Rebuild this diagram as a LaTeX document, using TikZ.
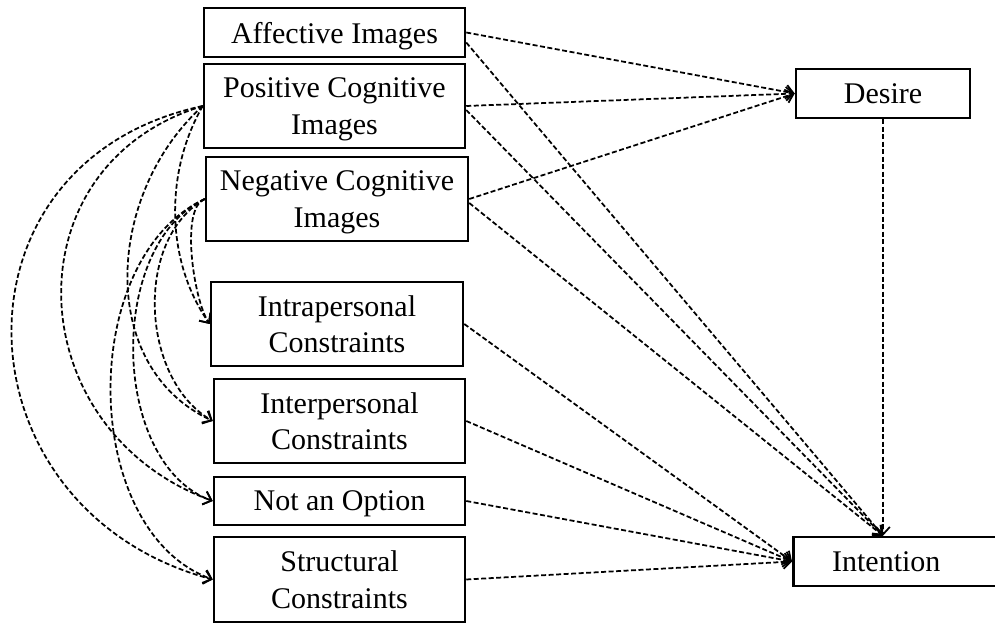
\documentclass[tikz,border=0pt]{standalone}
\usepackage{fontspec}
\setmainfont{Liberation Serif}
\usetikzlibrary{arrows.meta}

\tikzset{
  box/.style={draw, line width=1pt, align=center, inner sep=0pt, text depth=0pt, font=\fontsize{12}{14.5}\selectfont},
  conn/.style={dash pattern=on 2pt off 1pt, line width=0.7pt, -{Straight Barb[length=3pt,width=5.5pt]}},
}

\begin{document}
\begin{tikzpicture}[x=0.4pt,y=0.4pt]
        \useasboundingbox (0,0) rectangle (995,-624);
        % images
        \node[box, minimum width=104.4pt, minimum height=19.6pt](aff) at (334.5,-32.5) {Affective Images};
        \node[box, minimum width=104.4pt, minimum height=33.6pt](pos) at (334.5,-106) {Positive Cognitive\\Images};
        \node[box, minimum width=104.8pt, minimum height=33.6pt](neg) at (337,-199) {Negative Cognitive\\Images};
        % constraints
        \node[box, minimum width=100.8pt, minimum height=33.6pt](intra) at (337,-324) {Intrapersonal\\Constraints};
        \node[box, minimum width=100.4pt, minimum height=33.6pt](inter) at (339.5,-421) {Interpersonal\\Constraints};
        \node[box, minimum width=100.4pt, minimum height=19.2pt](notopt) at (339.5,-501) {Not an Option};
        \node[box, minimum width=100.4pt, minimum height=34pt](struct) at (339.5,-579.5) {Structural\\Constraints};
        % outcomes
        \node[box, minimum width=69.6pt, minimum height=19.6pt](desire) at (883,-93.5) {Desire};
        \node[box, minimum width=88pt, minimum height=19.6pt, anchor=west](intent) at (792,-561.5) {\hspace*{-13.6pt}Intention};

        % to desire
        \draw[conn] (aff.east) -- (desire.west);
        \draw[conn] (pos.east) -- (desire.west);
        \draw[conn] (neg.east) -- (desire.west);
        % to intention
        \coordinate (top) at (desire.south |- intent.north);
        \draw[conn] ([yshift=-4pt]aff.east) -- (top);
        \draw[conn] ([yshift=-1.6pt]pos.east) -- (top);
        \draw[conn] ([yshift=-1.6pt]neg.east) -- (top);
        \draw[conn] (desire.south) -- (top);
        \draw[conn] (intra.east) -- (intent.west);
        \draw[conn] (inter.east) -- (intent.west);
        \draw[conn] (notopt.east) -- (intent.west);
        \draw[conn] (struct.east) -- (intent.west);

        % correlations on the left
        \draw[conn] (pos.west) to[out=192,in=165,looseness=1.45] (struct.west);
        \draw[conn] (pos.west) to[out=197,in=160,looseness=1.33] (notopt.west);
        \draw[conn] (pos.west) to[out=222,in=155,looseness=1.05] (inter.west);
        \draw[conn] (pos.west) to[out=240,in=125,looseness=0.9] (intra.west);
        \draw[conn] (neg.west) to[out=205,in=160,looseness=0.95] (struct.west);
        \draw[conn] (neg.west) to[out=205,in=160,looseness=0.92] (notopt.west);
        \draw[conn] (neg.west) to[out=210,in=150,looseness=0.95] (inter.west);
        \draw[conn] (neg.west) to[out=200,in=125,looseness=0.55] (intra.west);
    \end{tikzpicture}
\end{document}
